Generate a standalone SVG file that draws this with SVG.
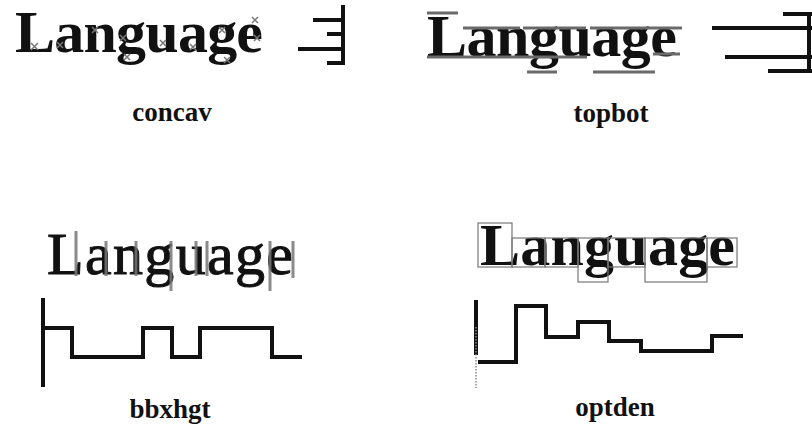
<svg xmlns="http://www.w3.org/2000/svg" width="812" height="433" viewBox="0 0 812 433">
<style>
.word{font-family:"Liberation Serif","Times New Roman",serif;font-size:60px;fill:#111}
.b{font-weight:bold}
.med{stroke:#111;stroke-width:1}
.lbl{font-family:"Liberation Serif","Times New Roman",serif;font-size:27px;font-weight:bold;fill:#111;text-anchor:middle}
.blk{stroke:#111;stroke-width:4;fill:none;stroke-linejoin:miter;stroke-linecap:butt}
.gry{stroke:#6a6a6a;stroke-width:3;fill:none}
.bar{stroke:#777;stroke-width:3;fill:none;opacity:0.85}
.box{stroke:#777;stroke-width:1.2;fill:none}
.x{stroke:#777;stroke-width:1.5;fill:none}
</style>
<rect width="812" height="433" fill="#fff"/>

<g id="concav">
  <text class="word b" x="15" y="52" textLength="248">Language</text>
  <g class="x">
    <path d="M31 43l7 7M38 43l-7 7"/>
    <path d="M57 42l6 6M63 42l-6 6"/>
    <path d="M92 27l6 6M98 27l-6 6"/>
    <path d="M120 35l6 6M126 35l-6 6"/>
    <path d="M124 54l6 6M130 54l-6 6"/>
    <path d="M160 40l6 6M166 40l-6 6"/>
    <path d="M190 44l6 6M196 44l-6 6"/>
    <path d="M219 27l6 6M225 27l-6 6"/>
    <path d="M224 57l6 6M230 57l-6 6"/>
    <path d="M252 17l6 6M258 17l-6 6"/>
    <path d="M254 35l6 6M260 35l-6 6"/>
  </g>
  <path class="blk" d="M343 5V65M313 20H343M327 34H343M298 49H343M327 63H343"/>
  <text class="lbl" x="172" y="121">concav</text>
</g>

<g id="topbot">
  <text class="word b" x="427" y="56" textLength="250">Language</text>
  <path class="gry" d="M427 13H458M463 28H520M523 28H586M590 28H682M427 57H587M653 54H680M527 72H557M593 72H655"/>
  <path class="blk" d="M783 14H812M712 28H812M725 57H812M768 71H812M809 14V71"/>
  <text class="lbl" x="611" y="122">topbot</text>
</g>

<g id="bbxhgt">
  <text class="word med" x="47" y="274" textLength="246">Language</text>
  <path class="bar" d="M76 231V276M106 241V276M136 241V276M171 241V291M196 241V276M207 241V276M270 241V291M293 241V278"/>
  <path class="blk" d="M43 298V387"/>
  <path class="blk" d="M43 328H72V357H143V328H172V357H200V328H272V357H302"/>
  <text class="lbl" x="170" y="418">bbxhgt</text>
</g>

<g id="optden">
  <text class="word b" x="480" y="265" textLength="255">Language</text>
  <g class="box">
    <rect x="478" y="223" width="34" height="44"/>
    <rect x="512" y="238" width="33" height="29"/>
    <rect x="545" y="238" width="33" height="29"/>
    <rect x="578" y="238" width="30" height="44"/>
    <rect x="608" y="238" width="37" height="29"/>
    <rect x="645" y="238" width="62" height="44"/>
    <rect x="707" y="238" width="30" height="29"/>
  </g>
  <path class="blk" d="M476 300V355" stroke-width="5"/>
  <path d="M476 327V388" stroke="#888" stroke-width="1.5" stroke-dasharray="1.5 1.5" fill="none"/>
  <path class="blk" stroke-width="5" d="M478 362H516V306H546V337H578V322H609V341H641V351H712V336H743"/>
  <text class="lbl" x="615" y="416">optden</text>
</g>
</svg>
